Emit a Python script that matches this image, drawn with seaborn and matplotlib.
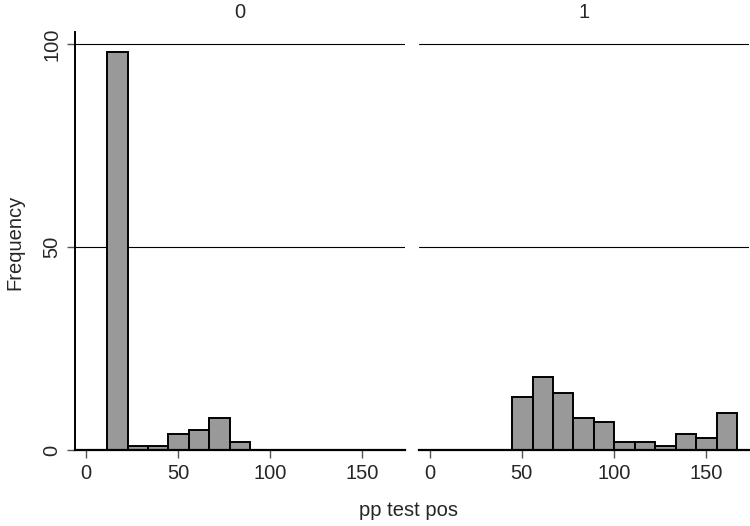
import numpy as np
import pandas as pd
import seaborn as sns
import matplotlib
matplotlib.use("Agg")
import matplotlib.pyplot as plt

# histogram bins: 14 bins starting ~11.4, width ~11.1
bin_start = 11.4
bin_width = 11.1
n_bins = 14

groups = ["0", "1"]
counts_0 = [98, 1, 1, 4, 5, 8, 2, 0, 0, 0, 0, 0, 0, 0]
counts_1 = [0, 0, 0, 13, 18, 14, 8, 7, 2, 2, 1, 4, 3, 9]

x_ticks = [0, 50, 100, 150]
y_ticks = [0, 50, 100]

edges = bin_start + bin_width * np.arange(n_bins + 1)
mids = (edges[:-1] + edges[1:]) / 2

rows = []
for g, cnts in zip(groups, [counts_0, counts_1]):
        for m, c in zip(mids, cnts):
                rows.append({"grp": g, "pp test pos": m, "count": c})
df = pd.DataFrame(rows)

sns.set_style("white")
plt.rcParams["font.family"] = ["Liberation Sans", "DejaVu Sans"]
fs = 14.5

g = sns.FacetGrid(df, col="grp", col_order=groups, sharey=True, sharex=True,
                  height=5.26, aspect=0.7)
g.map_dataframe(sns.histplot, x="pp test pos", weights="count", bins=edges.tolist(),
                color="#999999", edgecolor="black", linewidth=1.4, alpha=1)
g.figure.set_size_inches(7.5, 5.26)
g.figure.subplots_adjust(left=0.1, right=0.998, bottom=0.1445, top=0.939, wspace=0.042)

for i, ax in enumerate(g.axes.flat):
        ax.set_xlim(-6, 173)
        ax.set_ylim(0, 103)
        for y in [50, 100]:
                ax.axhline(y, color="black", lw=0.8, zorder=0)
        ax.set_title(groups[i], fontsize=fs, pad=10)
        ax.set_xticks(x_ticks)
        ax.set_xlabel("")
        ax.set_ylabel("")
        ax.tick_params(axis="x", direction="out", length=6, width=1, color="#555555",
                       labelsize=fs, pad=4, bottom=True)
        for s in ["top", "right"]:
                ax.spines[s].set_visible(False)
        ax.spines["bottom"].set_linewidth(1.6)
        ax.spines["bottom"].set_color("black")
        if i == 0:
                ax.set_yticks(y_ticks)
                ax.set_yticklabels([str(v) for v in y_ticks], rotation=90, va="center")
                ax.tick_params(axis="y", direction="out", length=6, width=1, color="#555555",
                               labelsize=fs, pad=4, left=True)
                ax.spines["left"].set_linewidth(1.4)
                ax.spines["left"].set_color("black")
        else:
                ax.spines["left"].set_visible(False)
                ax.tick_params(axis="y", left=False, labelleft=False)

g.figure.text(0.02, 0.54, "Frequency", rotation=90, ha="center", va="center", fontsize=fs)
g.figure.text(0.545, 0.030, "pp test pos", ha="center", va="center", fontsize=fs)

g.figure.savefig("out.png", dpi=100)
